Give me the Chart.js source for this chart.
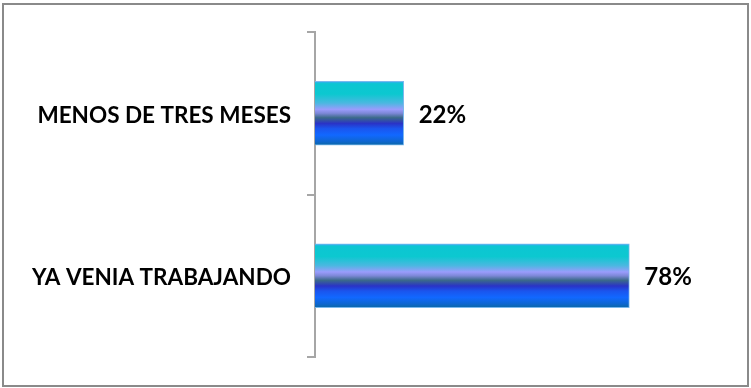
<!DOCTYPE html>
<html>
<head>
<meta charset="utf-8">
<script src="https://cdn.jsdelivr.net/npm/chart.js@4/dist/chart.umd.min.js"></script>
<style>
  html, body { margin: 0; padding: 0; background: #ffffff; }
  #wrap { width: 751px; height: 388px; position: relative; }
</style>
</head>
<body>
<div id="wrap"><canvas id="c" width="751" height="388"></canvas></div>
<script>
const categories = ['MENOS DE TRES MESES', 'YA VENIA TRABAJANDO'];
const values = [22, 78];
const valueSuffix = '%';

const FONT = 'Lato, "Liberation Sans", sans-serif';

function barGradient(context) {
  const chart = context.chart;
  const yScale = chart.scales.y;
  if (!chart.chartArea || !yScale) return '#1166ff';
  const c = yScale.getPixelForValue(context.dataIndex);
  const half = 32;
  const g = chart.ctx.createLinearGradient(0, c - half, 0, c + half);
  g.addColorStop(0.00, '#3fa9f5');
  g.addColorStop(0.04, '#0cc6d2');
  g.addColorStop(0.20, '#0cc8d0');
  g.addColorStop(0.34, '#4ab8e0');
  g.addColorStop(0.44, '#9a9cfc');
  g.addColorStop(0.50, '#7d88d8');
  g.addColorStop(0.57, '#3b6a8a');
  g.addColorStop(0.66, '#2a33c6');
  g.addColorStop(0.74, '#1a55ee');
  g.addColorStop(0.84, '#1168ff');
  g.addColorStop(0.94, '#0e66d0');
  g.addColorStop(1.00, '#0a68a4');
  return g;
}

const frame = {
  id: 'frame',
  afterDraw(chart) {
    const ctx = chart.ctx;
    ctx.save();
    ctx.strokeStyle = '#8a8a8a';
    ctx.lineWidth = 2;
    ctx.strokeRect(3, 4, 745, 382);
    ctx.restore();
  }
};

const valueLabels = {
  id: 'valueLabels',
  afterDatasetsDraw(chart) {
    const ctx = chart.ctx;
    const meta = chart.getDatasetMeta(0);
    ctx.save();
    ctx.fillStyle = '#000000';
    ctx.font = 'bold 24px ' + FONT;
    ctx.textAlign = 'left';
    ctx.textBaseline = 'middle';
    meta.data.forEach((el, i) => {
      ctx.fillText(values[i] + valueSuffix, el.x + 15, el.y + 2);
    });
    ctx.restore();
  }
};

new Chart(document.getElementById('c'), {
  type: 'bar',
  data: {
    labels: categories,
    datasets: [{
      data: values,
      backgroundColor: barGradient,
      borderColor: '#7ab8ee',
      borderWidth: 1,
      borderSkipped: 'left',
      barThickness: 64
    }]
  },
  options: {
    indexAxis: 'y',
    responsive: false,
    animation: false,
    devicePixelRatio: 1,
    layout: { padding: { left: 0, top: 32, right: 33, bottom: 31 } },
    plugins: {
      legend: { display: false },
      tooltip: { enabled: false },
      title: { display: false }
    },
    scales: {
      x: {
        display: false,
        min: 0,
        max: 100
      },
      y: {
        afterFit(scale) { scale.width = 315; },
        grid: {
          drawOnChartArea: false,
          drawTicks: true,
          tickLength: 8,
          color: '#a6a6a6',
          lineWidth: 2
        },
        border: { display: true, color: '#a6a6a6', width: 2 },
        ticks: {
          color: '#000000',
          padding: 16,
          labelOffset: 2,
          font: { family: FONT, size: 22.5, weight: 'bold' }
        }
      }
    }
  },
  plugins: [frame, valueLabels]
});
</script>
</body>
</html>
